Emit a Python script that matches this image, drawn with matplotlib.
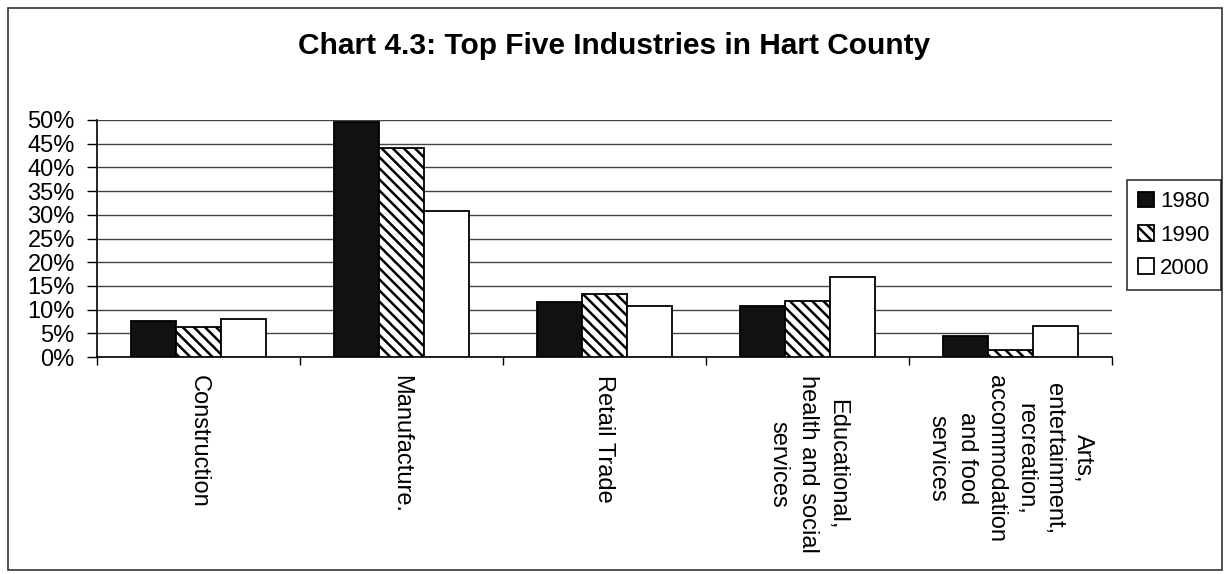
import matplotlib.pyplot as plt
import numpy as np
from matplotlib.patches import Rectangle
from matplotlib.ticker import FuncFormatter

plt.rcParams['font.family'] = ['Liberation Sans', 'DejaVu Sans']
plt.rcParams['hatch.linewidth'] = 1.8

industries = ['Construction', 'Manufacture.', 'Retail Trade',
              'Educational,\nhealth and social\nservices',
              'Arts,\nentertainment,\nrecreation,\naccommodation\nand food\nservices']
years = ['1980', '1990', '2000']
v1980 = [7.6, 49.5, 11.6, 10.8, 4.5]
v1990 = [6.3, 44.1, 13.3, 11.8, 1.5]
v2000 = [8.0, 30.7, 10.8, 16.8, 6.5]

fig = plt.figure(figsize=(12.29, 5.74), dpi=100)
ax = fig.add_axes([97/1229, 1-357/574, (1112-97)/1229, (357-120)/574])

x = np.arange(len(industries))
w = 0.222
ax.bar(x - w, v1980, w, color='#111111', edgecolor='black', linewidth=1.3, label=years[0], zorder=3)
ax.bar(x, v1990, w, color='white', edgecolor='black', hatch='\\\\\\', linewidth=1.3, label=years[1], zorder=3)
ax.bar(x + w, v2000, w, color='white', edgecolor='black', linewidth=1.3, label=years[2], zorder=3)

ax.set_xlim(-0.5, len(industries) - 0.5)
ax.set_ylim(0, 50)
ax.set_yticks(np.arange(0, 51, 5))
ax.yaxis.set_major_formatter(FuncFormatter(lambda v, p: '%d%%' % v))
ax.yaxis.grid(True, color='#444444', linewidth=1.0, zorder=0)
ax.tick_params(axis='y', labelsize=17, length=7, width=1, direction='out', pad=9)

ax.set_xticks(np.arange(-0.5, len(industries), 1))
ax.set_xticklabels([])
ax.tick_params(axis='x', length=6, width=1, direction='out')
ax.set_xticks(x, minor=True)
ax.set_xticklabels(industries, minor=True, rotation=-90, fontsize=17,
                   va='top', ha='center', multialignment='center', linespacing=1.42)
ax.tick_params(axis='x', which='minor', length=0, pad=13)

for s in ['top', 'right']:
    ax.spines[s].set_visible(False)
for s in ['left', 'bottom']:
    ax.spines[s].set_linewidth(1.2)

fig.text(0.5, 1-46/574, 'Chart 4.3: Top Five Industries in Hart County',
         ha='center', va='center', fontsize=21.5, fontweight='bold')

leg = fig.legend(loc='center left', bbox_to_anchor=(1127/1229, 1-235/574), fontsize=16,
                 frameon=True, fancybox=False, edgecolor='black', handlelength=0.7,
                 handleheight=0.7, handletextpad=0.3, labelspacing=0.55, borderpad=0.5,
                 borderaxespad=0)
leg.get_frame().set_linewidth(1.2)

fig.patches.append(Rectangle((8/1229, 4/574), 1214/1229, 562/574, transform=fig.transFigure,
                             fill=False, edgecolor='#333333', linewidth=1.2))

fig.savefig('out.png', dpi=100)
